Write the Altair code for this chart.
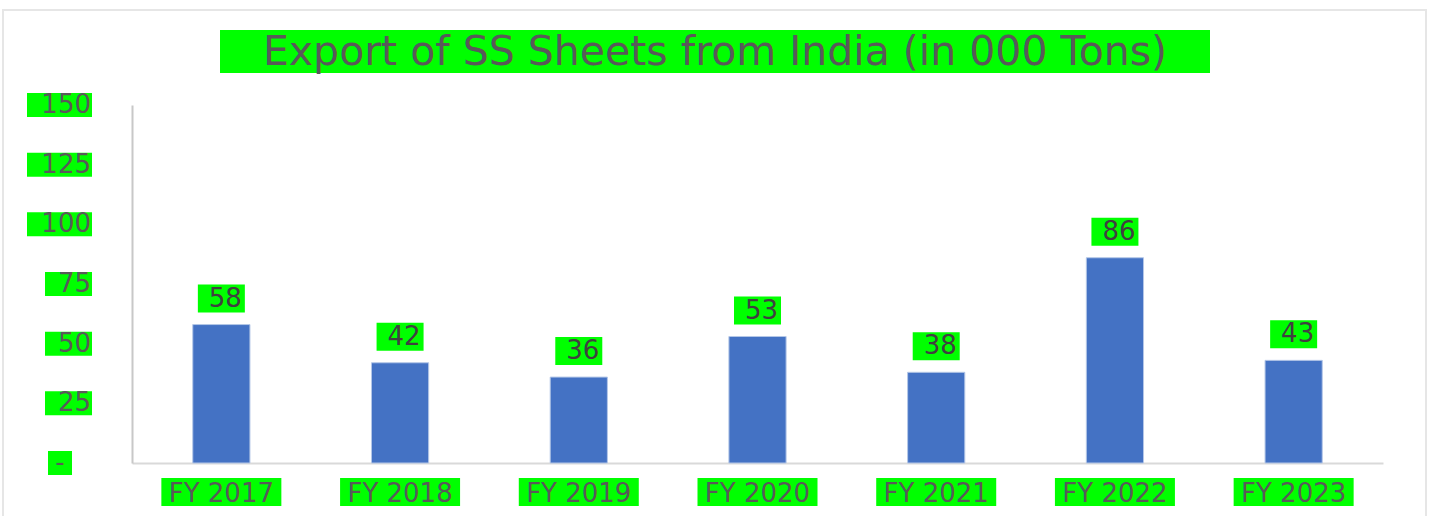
import altair as alt
import pandas as pd

categories = ["FY 2017", "FY 2018", "FY 2019", "FY 2020", "FY 2021", "FY 2022", "FY 2023"]
values = [58, 42, 36, 53, 38, 86, 43]
y_ticks = [0, 25, 50, 75, 100, 125, 150]
y_tick_labels = ["-", "25", "50", "75", "100", "125", "150"]
title_text = "Export of SS Sheets from India (in 000 Tons)"

GREEN = "#00ff00"
TEXT = "#595959"
FONT = "DejaVu Sans"
W, H = 1251, 358

df = pd.DataFrame({"cat": categories, "v": values})
ydf = pd.DataFrame({"t": y_ticks, "lab": y_tick_labels})
tdf = pd.DataFrame({"title": [title_text]})

xenc = alt.X("cat:N", sort=categories, title=None,
             scale=alt.Scale(paddingInner=0.68, paddingOuter=0.34),
             axis=alt.Axis(labels=False, ticks=False, domainColor="#d9d9d9", domainWidth=2))
yscale = alt.Scale(domain=[0, 150])
yenc = alt.Y("v:Q", scale=yscale, title=None,
             axis=alt.Axis(labels=False, ticks=False, grid=False, domainColor="#c8c8c8", domainWidth=2))

border = alt.Chart(tdf).mark_rect(filled=False, stroke="#e6e6e6", strokeWidth=2).encode(
    x=alt.value(-129), x2=alt.value(1294), y=alt.value(-95), y2=alt.value(430))

bars = alt.Chart(df).mark_bar(color="#4472c4", stroke="#b4c7e7", strokeWidth=1).encode(x=xenc, y=yenc)

lab_box = alt.Chart(df).mark_tick(color=GREEN, opacity=1, size=47, thickness=28, yOffset=-26,
                                  orient="horizontal").encode(x=alt.X("cat:N", sort=categories), y=alt.Y("v:Q", scale=yscale))
lab_txt = alt.Chart(df).mark_text(font=FONT, fontSize=26, color="#404040", dy=-26, dx=4,
                                  baseline="middle").encode(
    x=alt.X("cat:N", sort=categories), y=alt.Y("v:Q", scale=yscale), text="v:Q")

xl_box = alt.Chart(df).mark_tick(color=GREEN, opacity=1, size=120, thickness=28,
                                 orient="horizontal").encode(x=alt.X("cat:N", sort=categories), y=alt.value(387))
xl_txt = alt.Chart(df).mark_text(font=FONT, fontSize=26, color=TEXT, baseline="middle").encode(
    x=alt.X("cat:N", sort=categories), y=alt.value(389), text="cat:N")

def ybox(cond, cx, w):
    return alt.Chart(ydf).transform_filter(cond).mark_tick(
        color=GREEN, opacity=1, size=w, thickness=24, orient="horizontal").encode(
        x=alt.value(cx), y=alt.Y("t:Q", scale=yscale))

yb3 = ybox("length(datum.lab) == 3", -72.5, 65)
yb2 = ybox("length(datum.lab) == 2", -63.5, 47)
yb1 = ybox("length(datum.lab) == 1", -72, 24)
ytxt = alt.Chart(ydf).transform_filter("datum.lab != '-'").mark_text(
    font=FONT, fontSize=26, color=TEXT, align="right", baseline="middle").encode(
    x=alt.value(-41), y=alt.Y("t:Q", scale=yscale), text="lab:N")
ydash = alt.Chart(ydf).transform_filter("datum.lab == '-'").mark_text(
    font=FONT, fontSize=26, color=TEXT, align="center", baseline="middle").encode(
    x=alt.value(-72), y=alt.Y("t:Q", scale=yscale), text="lab:N")

title_box = alt.Chart(tdf).mark_rect(fill=GREEN).encode(
    x=alt.value(88), x2=alt.value(1078), y=alt.value(-75), y2=alt.value(-32))
title_txt = alt.Chart(tdf).mark_text(font=FONT, fontSize=41, color=TEXT, baseline="middle").encode(
    x=alt.value(583), y=alt.value(-52), text="title:N")

chart = alt.layer(border, bars, lab_box, lab_txt, xl_box, xl_txt, yb3, yb2, yb1, ytxt, ydash, title_box, title_txt).properties(
    width=W, height=H,
    padding={"left": 132, "top": 105, "right": 48, "bottom": 53},
    autosize=alt.AutoSizeParams(type="none"),
    background="white",
).configure_view(stroke=None)

chart.save("out.html", embed_options={"renderer": "svg", "actions": False})
